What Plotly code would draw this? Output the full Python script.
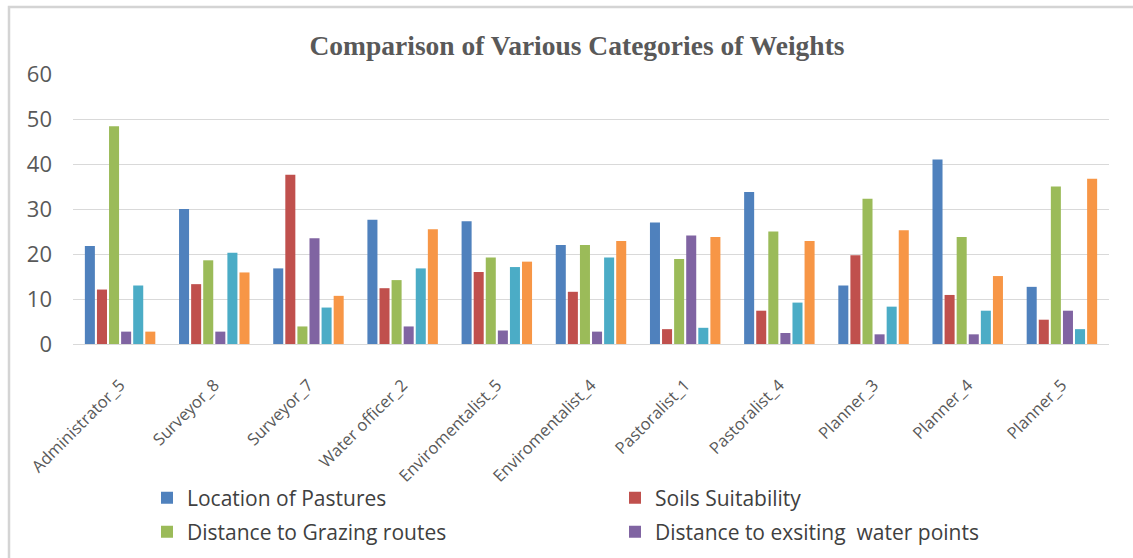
import plotly.graph_objects as go

categories = ["Administrator_5", "Surveyor_8", "Surveyor_7", "Water officer_2",
              "Enviromentalist_5", "Enviromentalist_4", "Pastoralist_1", "Pastoralist_4",
              "Planner_3", "Planner_4", "Planner_5"]

location_of_pastures = [21.8, 30.0, 16.8, 27.6, 27.3, 22.0, 27.0, 33.8, 13.0, 41.0, 12.7]
soils_suitability = [12.1, 13.3, 37.6, 12.4, 16.0, 11.6, 3.3, 7.4, 19.7, 10.9, 5.4]
distance_grazing_routes = [48.4, 18.6, 3.9, 14.2, 19.2, 22.0, 18.9, 25.0, 32.3, 23.8, 35.0]
distance_water_points = [2.75, 2.75, 23.5, 3.9, 3.0, 2.75, 24.1, 2.45, 2.15, 2.15, 7.4]
series_5 = [13.0, 20.3, 8.1, 16.8, 17.1, 19.2, 3.6, 9.2, 8.3, 7.4, 3.3]
series_6 = [2.75, 15.9, 10.7, 25.5, 18.3, 22.9, 23.8, 22.9, 25.3, 15.1, 36.7]

W, H = 1133, 558
L, R, T, B = 73, 24, 74, 214
pw = W - L - R
ph = H - T - B

def px2x(px):
    return (px - L) / pw

def py2y(py):
    return (H - B - py) / ph

# (name, values, colour, legend id, legend text-start px, legend row centre px)
series = [
    ("Location of Pastures", location_of_pastures, "#4F81BD", "legend", 195, 498),
    ("Soils Suitability", soils_suitability, "#C0504D", "legend2", 663, 498),
    ("Distance to Grazing routes", distance_grazing_routes, "#9BBB59", "legend3", 195, 532),
    ("Distance to exsiting  water points", distance_water_points, "#8064A2", "legend4", 663, 532),
    ("Series 5", series_5, "#4BACC6", None, None, None),
    ("Series 6", series_6, "#F79646", None, None, None),
]

fig = go.Figure()
legends = {}
for name, vals, color, leg, lx, ly in series:
    kw = dict(legend=leg) if leg else dict(showlegend=False)
    fig.add_trace(go.Bar(x=categories, y=vals, name=name, marker_color=color,
                         marker_line_width=0, **kw))
    if leg:
        legends[leg] = dict(x=px2x(lx - 48), y=py2y(ly), xanchor="left", yanchor="middle",
                            orientation="h",
                            font=dict(family="Open Sans", size=21, color="#404040"),
                            bgcolor="rgba(0,0,0,0)")

fig.update_layout(
    width=W, height=H,
    margin=dict(l=L, r=R, t=T, b=B, autoexpand=False),
    paper_bgcolor="white", plot_bgcolor="white",
    barmode="group", bargap=0.23, bargroupgap=0.17,
    title=dict(text="<b>Comparison of Various Categories of Weights</b>",
               x=577 / W, xanchor="center", y=1 - 45 / H, yanchor="middle",
               font=dict(family="Liberation Serif", size=27.5, color="#595959")),
    font=dict(family="Open Sans", color="#595959"),
    xaxis=dict(tickangle=-45, tickfont=dict(size=16.5, color="#595959"),
               showline=True, linecolor="#d9d9d9", ticks="", showgrid=False,
               ticklabelstandoff=24, automargin=False),
    yaxis=dict(range=[0, 60], dtick=10, tickfont=dict(size=22, color="#595959"),
               gridcolor="#d9d9d9", zeroline=False, showline=False, ticks="",
               ticklabelstandoff=20, automargin=False),
    shapes=[dict(type="rect", xref="paper", yref="paper",
                 x0=px2x(9), x1=px2x(1145), y0=py2y(7), y1=py2y(600),
                 line=dict(color="#d4d4d4", width=2.5), fillcolor="rgba(0,0,0,0)",
                 layer="below")],
    **legends,
)

fig.write_html("out.html", config={"displayModeBar": False},
               post_script="document.body.style.margin='0';")
